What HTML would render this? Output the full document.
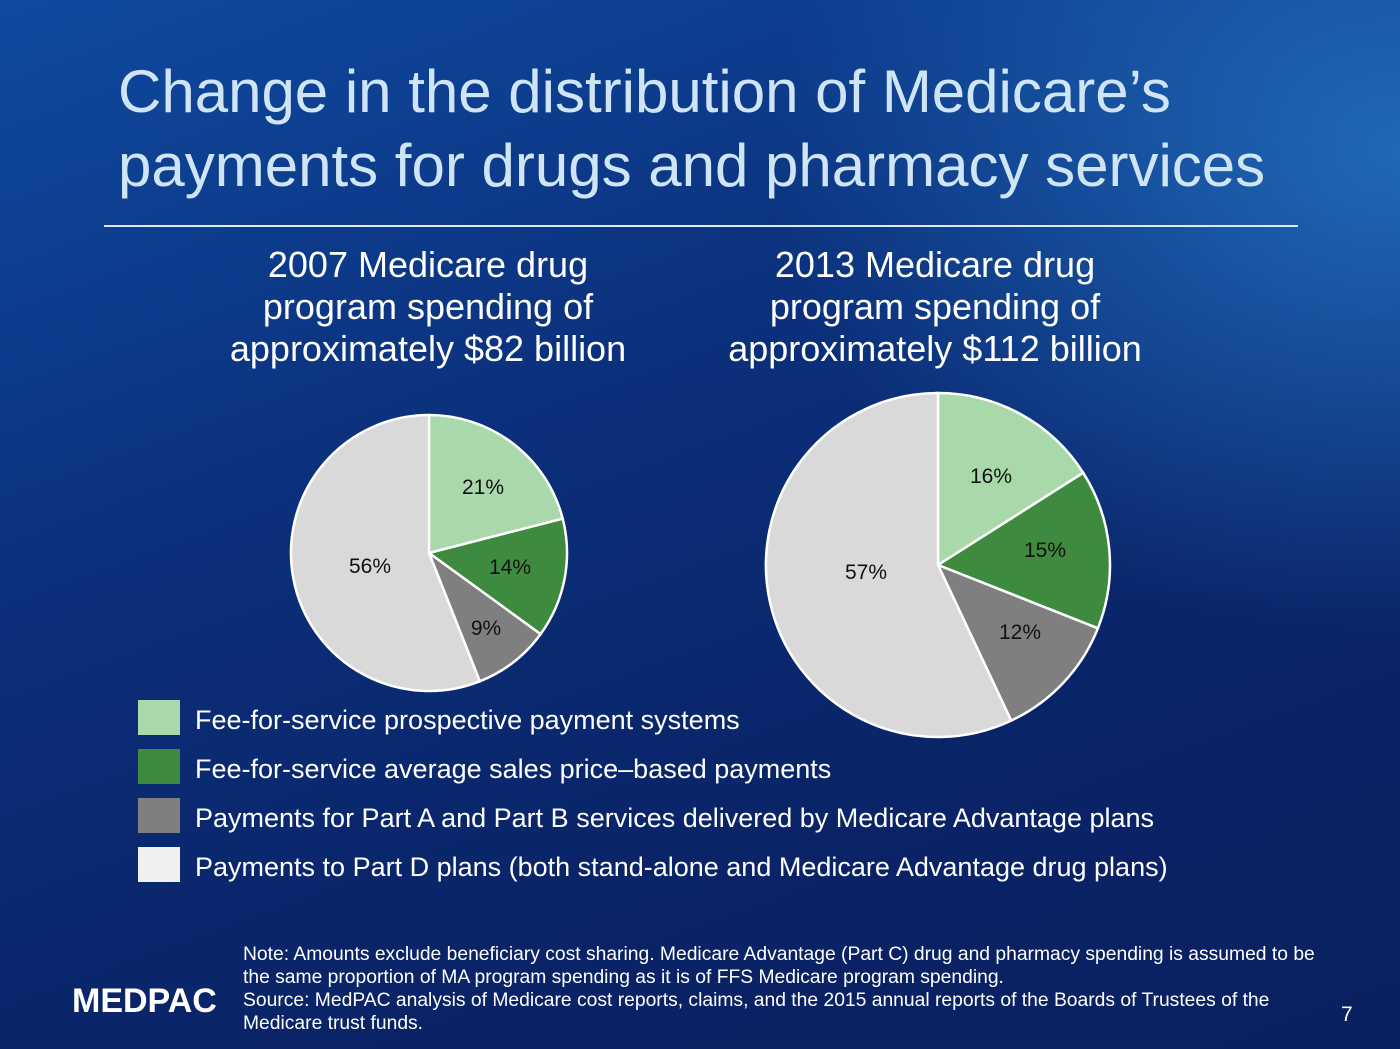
<!DOCTYPE html>
<html><head><meta charset="utf-8"><style>
html,body{margin:0;padding:0}
body{width:1400px;height:1049px;position:relative;overflow:hidden;font-family:"Liberation Sans",sans-serif;
background:linear-gradient(160deg,#0f4aa0 0%,#0b2f7a 40%,#0a2468 70%,#0a2060 100%);}
.bg2{position:absolute;inset:0;background:radial-gradient(ellipse 900px 700px at 1400px 150px,rgba(40,130,210,.7),rgba(40,130,210,0) 70%);}
.t{position:absolute;white-space:nowrap}
.title{left:118px;color:#cfe5f6;font-size:60px;line-height:74px;top:55px}
.sub{color:#fff;font-size:36px;line-height:42px;text-align:center;width:560px;top:244px}
.leg{left:195px;color:#fff;font-size:27px}
.sq{position:absolute;left:138px;width:42px;height:35px}
.note{left:243px;color:#fff;font-size:19.3px;line-height:23px;top:943px}
</style></head><body>
<div class="bg2"></div>
<div class="t title">Change in the distribution of Medicare’s<br>payments for drugs and pharmacy services</div>
<div style="position:absolute;left:104px;top:225px;width:1194px;height:2px;background:#dfe9f5"></div>
<div class="t sub" style="left:148px">2007 Medicare drug<br>program spending of<br>approximately $82 billion</div>
<div class="t sub" style="left:655px">2013 Medicare drug<br>program spending of<br>approximately $112 billion</div>
<svg width="1400" height="1049" style="position:absolute;left:0;top:0" font-family="Liberation Sans, sans-serif" font-size="21" fill="#111">
<g stroke="#fff" stroke-width="2.5">
<path d="M429,553 L429,415 A138,138 0 0 1 562.7,518.7 Z" fill="#a9d8ab"/>
<path d="M429,553 L562.7,518.7 A138,138 0 0 1 540.6,634.1 Z" fill="#3e8b3f"/>
<path d="M429,553 L540.6,634.1 A138,138 0 0 1 479.8,681.3 Z" fill="#7f7f7f"/>
<path d="M429,553 L479.8,681.3 A138,138 0 1 1 429,415 Z" fill="#d9d9d9"/>
<path d="M938,565 L938,393 A172,172 0 0 1 1083.2,472.8 Z" fill="#a9d8ab"/>
<path d="M938,565 L1083.2,472.8 A172,172 0 0 1 1097.9,628.3 Z" fill="#3e8b3f"/>
<path d="M938,565 L1097.9,628.3 A172,172 0 0 1 1011.2,720.6 Z" fill="#7f7f7f"/>
<path d="M938,565 L1011.2,720.6 A172,172 0 1 1 938,393 Z" fill="#d9d9d9"/>
</g>
<text x="483" y="494" text-anchor="middle">21%</text>
<text x="510" y="574" text-anchor="middle">14%</text>
<text x="486" y="635" text-anchor="middle">9%</text>
<text x="370" y="573" text-anchor="middle">56%</text>
<text x="991" y="483" text-anchor="middle">16%</text>
<text x="1045" y="557" text-anchor="middle">15%</text>
<text x="1020" y="639" text-anchor="middle">12%</text>
<text x="866" y="579" text-anchor="middle">57%</text>
</svg>
<div class="sq" style="top:700px;background:#a9d8ab"></div>
<div class="sq" style="top:749px;background:#3e8b3f"></div>
<div class="sq" style="top:798px;background:#7f7f7f"></div>
<div class="sq" style="top:847px;background:#f0f0f0"></div>
<div class="t leg" style="top:705px">Fee-for-service prospective payment systems</div>
<div class="t leg" style="top:754px">Fee-for-service average sales price–based payments</div>
<div class="t leg" style="top:803px">Payments for Part A and Part B services delivered by Medicare Advantage plans</div>
<div class="t leg" style="top:852px">Payments to Part D plans (both stand-alone and Medicare Advantage drug plans)</div>
<div class="t note">Note: Amounts exclude beneficiary cost sharing. Medicare Advantage (Part C) drug and pharmacy spending is assumed to be<br>the same proportion of MA program spending as it is of FFS Medicare program spending.<br>Source: MedPAC analysis of Medicare cost reports, claims, and the 2015 annual reports of the Boards of Trustees of the<br>Medicare trust funds.</div>
<div class="t" style="left:72px;top:982px;color:#fff;font-size:34px;font-weight:bold;letter-spacing:0px">MEDPAC</div>
<div class="t" style="left:1341px;top:1003px;color:#fff;font-size:21px">7</div>
</body></html>
